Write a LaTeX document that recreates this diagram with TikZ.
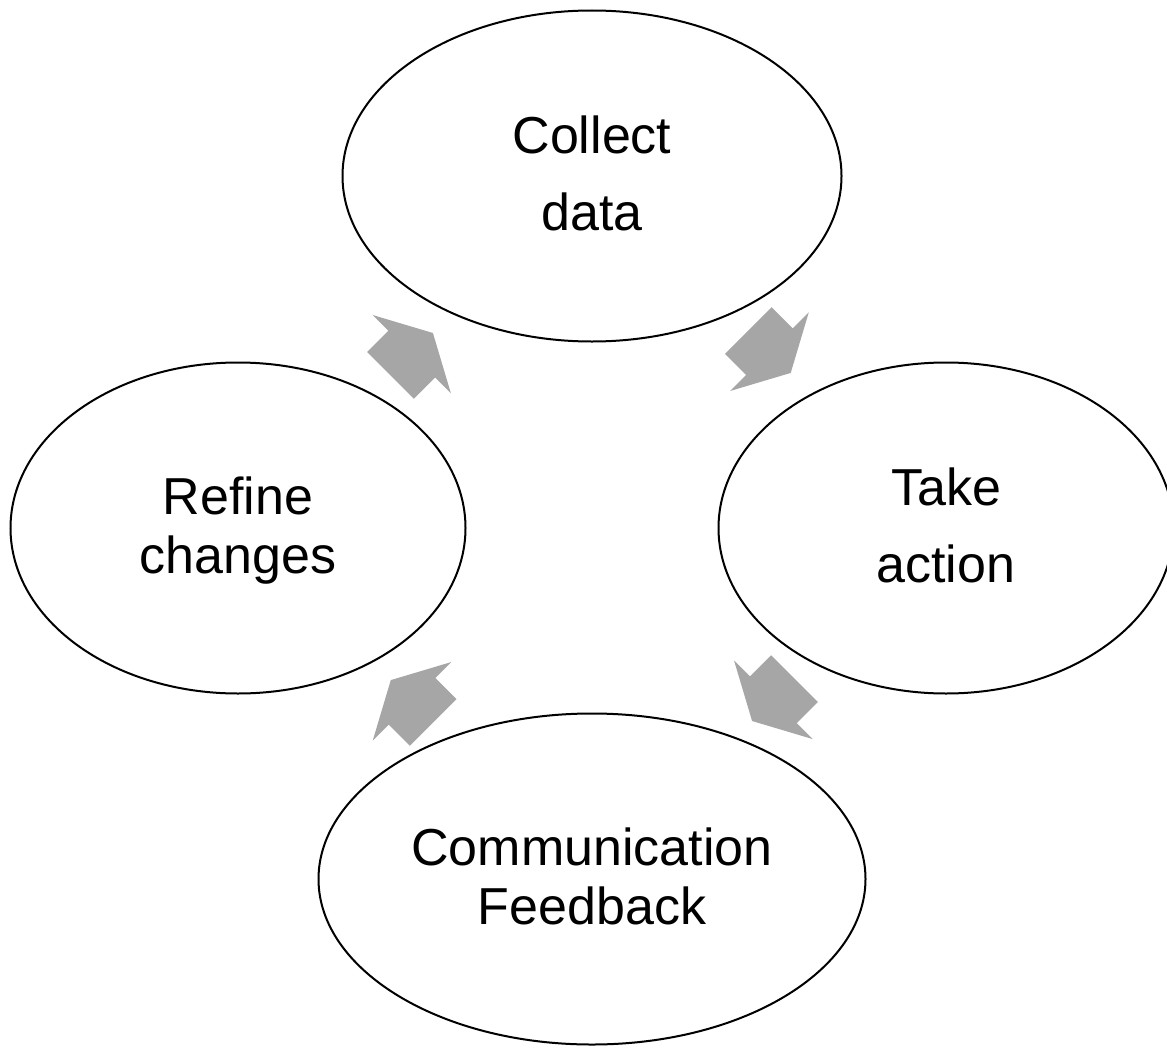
\documentclass[tikz,border=0pt]{standalone}
\usepackage{fontspec}
\setmainfont{Liberation Sans}
\usetikzlibrary{shapes.geometric}
\definecolor{arrowgray}{RGB}{166,166,166}
\tikzset{
  stage/.style={ellipse, draw=black, line width=2pt, inner sep=0pt, align=center,
    font=\fontsize{52}{77}\selectfont, minimum height=331pt},
  tightstage/.style={stage, font=\fontsize{52}{59}\selectfont},
  blockarrow/.style={fill=arrowgray, draw=none},
}
\newcommand{\blockarrowpath}{(-30,33) -- (0,33) -- (0,55.5) -- (30,0) -- (0,-55.5) -- (0,-33) -- (-30,-33) -- cycle}
\newcommand{\toprule}{\rule{0pt}{42pt}}
\begin{document}
\begin{tikzpicture}[x=1pt, y=-1pt]
\useasboundingbox (0,0) rectangle (1167,1049);
\clip (0,0) rectangle (1167,1049);
% stages
\node[stage, minimum width=499pt] (collect) at (592,176) {\toprule Collect\\data\vphantom{g}};
\node[stage, minimum width=455pt] (action)  at (946,528) {\toprule Take\\action\vphantom{g}};
\node[tightstage, minimum width=455pt] (refine)  at (238,528) {\toprule Refine\\changes\vphantom{g}};
\node[tightstage, minimum width=547pt] (comm)    at (592,879) {\toprule Communication\\Feedback\vphantom{g}};
% arrow anchors
\coordinate (a1) at (769.5,351.7);
\coordinate (a2) at (773.3,699.8);
\coordinate (a3) at (412,701.3);
\coordinate (a4) at (411.7,354.2);
% block arrows
\fill[blockarrow, shift={(a1)}, rotate=-45] \blockarrowpath;
\fill[blockarrow, shift={(a2)}, rotate=-135] \blockarrowpath;
\fill[blockarrow, shift={(a3)}, rotate=135] \blockarrowpath;
\fill[blockarrow, shift={(a4)}, rotate=45] \blockarrowpath;
\end{tikzpicture}
\end{document}
